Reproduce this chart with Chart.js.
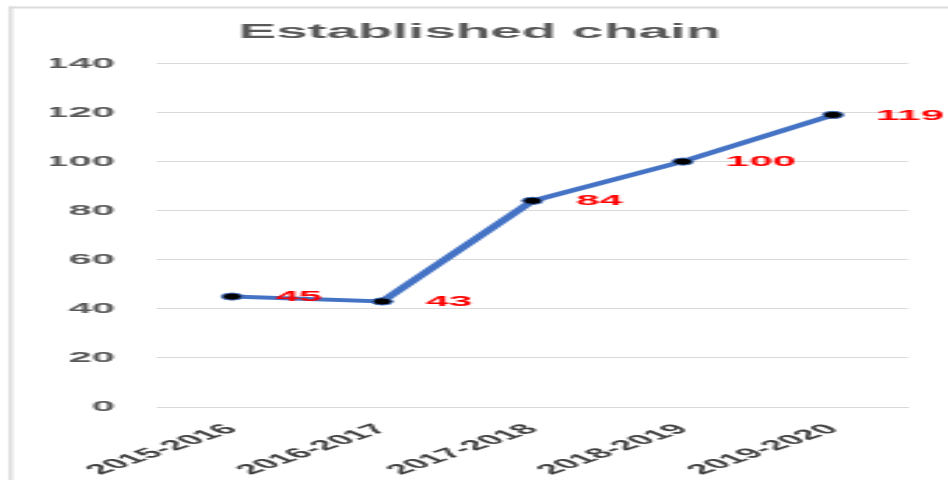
<!DOCTYPE html>
<html>
<head>
<meta charset="utf-8">
<script src="https://cdn.jsdelivr.net/npm/chart.js@4/dist/chart.umd.min.js"></script>
<style>
  html, body { margin: 0; padding: 0; background: #ffffff; overflow: hidden; }
  #wrap { position: absolute; left: 0; top: 0; width: 339px; height: 480px;
          transform: scale(2.7965, 1); transform-origin: 0 0; }
</style>
</head>
<body>
<div id="wrap"><canvas id="c"></canvas></div>
<script>
const categories = ['2015-2016', '2016-2017', '2017-2018', '2018-2019', '2019-2020'];
const values = [45, 43, 84, 100, 119];
const yTicks = [0, 20, 40, 60, 80, 100, 120, 140];
const chartTitle = 'Established chain';

const frame = {
  id: 'frame',
  beforeDraw(chart) {
    const ctx = chart.ctx;
    ctx.save();
    ctx.fillStyle = '#dcdcdc';
    ctx.fillRect(3, 6.5, chart.width, 2);
    ctx.fillRect(3, 6.5, 1.5, chart.height);
    ctx.restore();
  }
};

const valueLabels = {
  id: 'valueLabels',
  afterDatasetsDraw(chart) {
    const ctx = chart.ctx;
    const meta = chart.getDatasetMeta(0);
    const data = chart.data.datasets[0].data;
    ctx.save();
    ctx.font = 'bold 15px "Liberation Sans", Arial, sans-serif';
    ctx.fillStyle = '#ff0000';
    ctx.textAlign = 'left';
    ctx.textBaseline = 'middle';
    meta.data.forEach((pt, i) => {
      ctx.fillText(String(data[i]), pt.x + 15.5, pt.y + 0.5);
    });
    ctx.restore();
  }
};

new Chart(document.getElementById('c'), {
  type: 'line',
  data: {
    labels: categories,
    datasets: [{
      data: values,
      borderColor: '#4472C4',
      borderWidth: 4,
      pointRadius: 3.6,
      pointBackgroundColor: '#000000',
      pointBorderColor: '#4472C4',
      pointBorderWidth: 1,
      tension: 0,
      fill: false
    }]
  },
  options: {
    responsive: true,
    maintainAspectRatio: false,
    animation: false,
    events: [],
    layout: { padding: { left: 18, right: 14.3, top: 0, bottom: 0 } },
    plugins: {
      legend: { display: false },
      tooltip: { enabled: false },
      title: {
        display: true,
        text: chartTitle,
        color: '#595959',
        font: { family: '"Liberation Sans", Arial, sans-serif', size: 20.3, weight: 'bold', lineHeight: 1.2 },
        padding: { top: 20, bottom: 19 }
      }
    },
    scales: {
      x: {
        type: 'category',
        offset: true,
        grid: { display: false },
        border: { display: true, color: '#d9d9d9', width: 1 },
        ticks: {
          autoSkip: false,
          minRotation: 42,
          maxRotation: 42,
          padding: 6,
          color: '#404040',
          font: { family: '"Liberation Sans", Arial, sans-serif', size: 14, weight: 'bold' }
        },
        afterFit(scale) { scale.height = 73; }
      },
      y: {
        min: 0,
        max: 140,
        afterBuildTicks(scale) { scale.ticks = yTicks.map(v => ({ value: v })); },
        grid: { color: '#d9d9d9', lineWidth: 1, drawTicks: false },
        border: { display: false },
        ticks: {
          padding: 15,
          color: '#595959',
          font: { family: '"Liberation Sans", Arial, sans-serif', size: 15, weight: 'bold' }
        },
        afterFit(scale) { scale.width = 38.1; }
      }
    }
  },
  plugins: [frame, valueLabels]
});
</script>
</body>
</html>
